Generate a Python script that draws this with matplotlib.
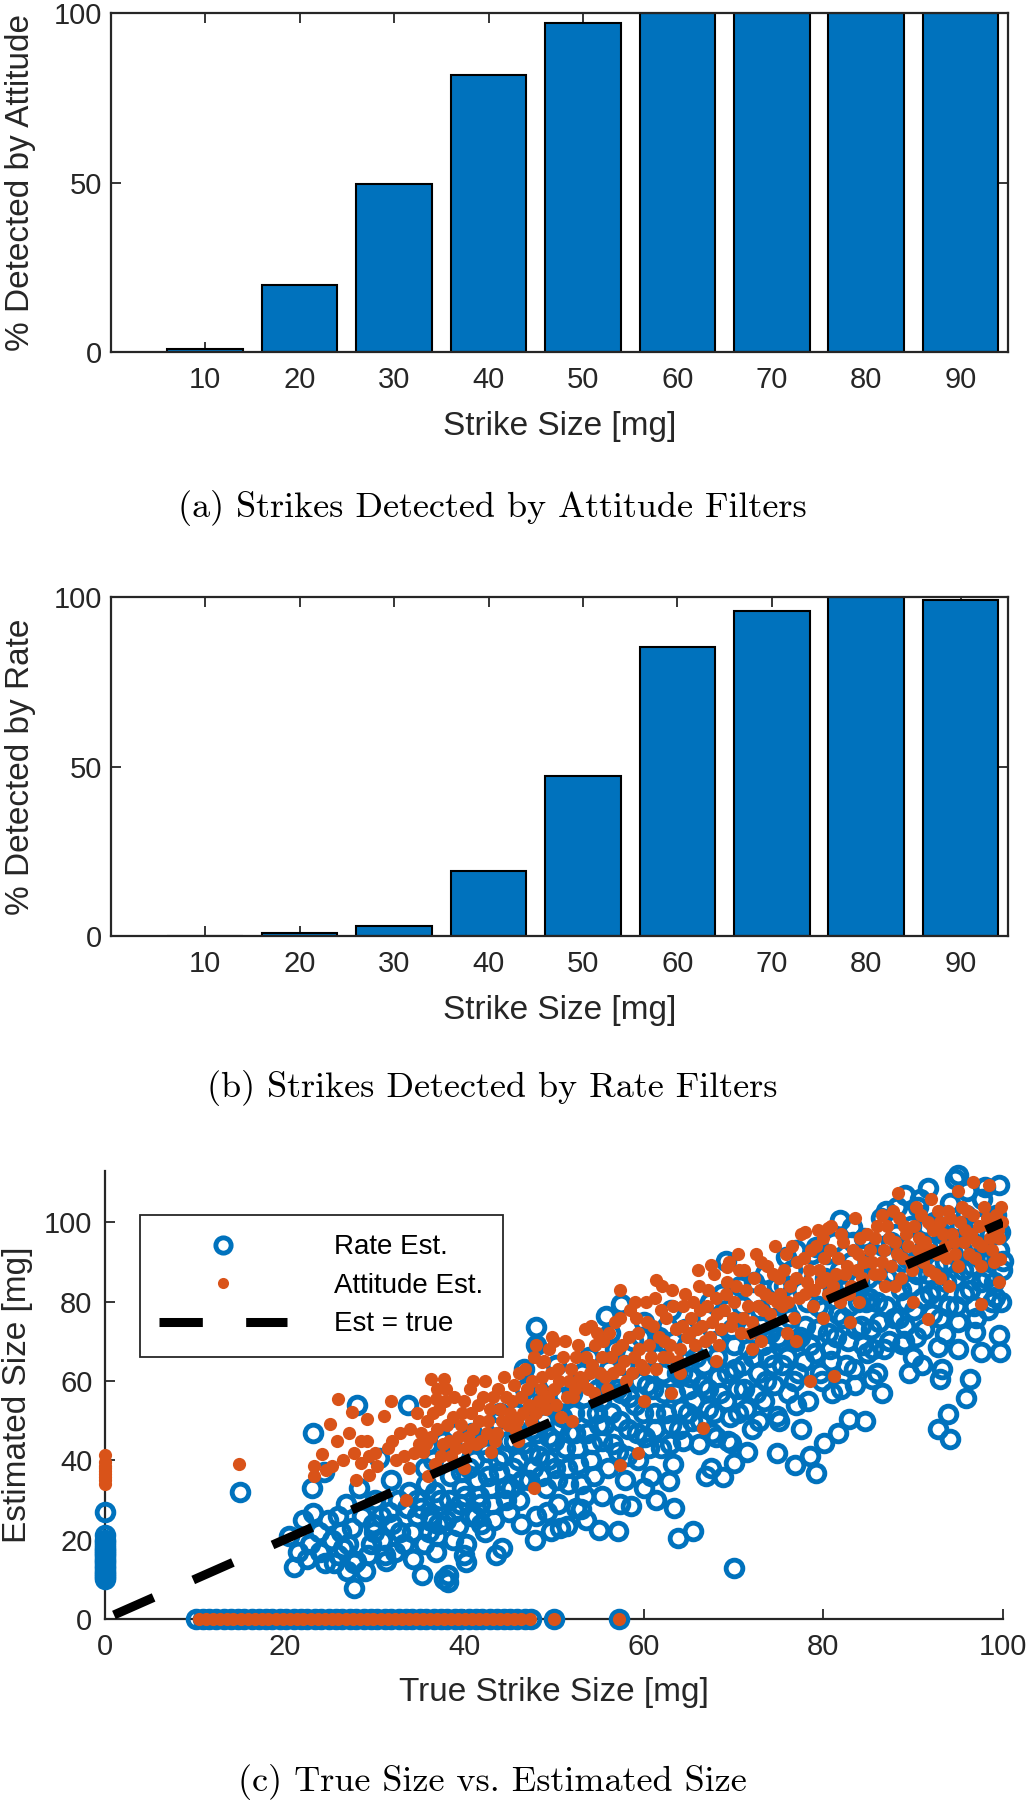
import matplotlib
matplotlib.use("Agg")
import matplotlib.pyplot as plt

# -------------------------------
# DATA
# -------------------------------
strike_sizes = [10, 20, 30, 40, 50, 60, 70, 80, 90]
pct_attitude = [1.0, 19.7, 49.7, 81.8, 97.2, 100, 100, 100, 100]
pct_rate = [0.0, 0.8, 3.0, 19.2, 47.2, 85.4, 95.8, 100, 99.1]

# rate estimates: undetected strikes (estimate 0) and detections at true size 0
rate_zero_x = [10.1, 10.9, 11.6, 12.4, 13.3, 14.0, 14.8, 15.5, 16.4, 17.1, 17.9, 18.6,
               19.5, 20.2, 21.0, 21.8, 22.5, 23.4, 24.1, 24.9, 25.7, 26.4, 27.3, 28.0,
               28.8, 29.6, 30.3, 31.2, 31.9, 32.7, 33.5, 34.2, 35.1, 35.8, 36.6, 37.4,
               38.1, 39.0, 39.7, 40.5, 41.3, 42.0, 42.9, 43.6, 44.4, 45.1, 45.9, 46.8,
               47.4, 50.0, 57.2]
rate_at_zero_y = [10.0, 10.6, 11.1, 11.7, 12.2, 12.9, 13.4, 14.0, 14.5, 15.1, 15.8,
                  16.3, 16.9, 17.4, 18.0, 18.7, 19.3, 20.0, 21.1, 27.0]

# rate estimates, small strikes
rate_low_x = [15.0, 23.2, 23.2, 28.1, 33.7, 24.4, 28.3, 32.6, 26.0, 24.0, 25.3, 27.5,
              30.7, 25.5, 27.7, 29.6, 31.2, 33.3, 27.7, 24.5, 28.0, 31.3, 21.5, 22.8,
              26.5, 29.0, 30.0, 32.0, 33.8, 31.8, 34.2, 26.8, 30.5, 22.0, 20.5,
              22.5, 23.8, 24.8, 25.9, 26.3, 27.1, 28.6, 29.3, 30.1, 30.9, 31.6, 32.3,
              32.9, 33.6, 34.3, 34.7, 29.8, 26.9, 21.0, 23.0]
rate_low_y = [32.0, 47.0, 26.8, 54.0, 54.0, 37.0, 33.0, 30.0, 26.0, 16.8, 20.0, 23.0,
              26.0, 14.0, 14.0, 19.0, 16.0, 19.0, 7.8, 14.0, 14.5, 14.5, 17.0, 19.0,
              18.0, 12.0, 22.0, 24.0, 32.0, 35.0, 22.0, 29.0, 40.5, 25.0, 21.0,
              15.0, 22.0, 25.0, 16.0, 22.0, 19.0, 26.0, 16.0, 30.0, 20.0, 27.0, 17.0,
              22.0, 28.0, 15.0, 30.0, 24.0, 12.0, 13.0, 33.0]

# rate estimates, 35-65 mg
rate_mid_x = [35.2, 35.8, 36.1, 36.5, 36.9, 37.3, 37.6, 38.0, 38.4, 38.7, 39.1, 39.5,
              39.8, 40.2, 40.5, 40.9, 41.2, 41.6, 42.0, 42.3, 42.7, 43.1, 43.4, 43.8,
              44.2, 44.5, 44.9, 45.0, 35.3, 37.7, 38.2, 38.2, 40.0, 43.5, 40.2, 36.3,
              35.5, 34.8, 37.0, 39.3, 41.9,
              45.4, 45.8, 46.1, 46.5, 46.8, 47.2, 47.6, 48.0, 48.3, 48.7, 49.1, 49.4,
              49.8, 50.1, 50.5, 50.9, 51.2, 51.6, 52.0, 52.3, 52.7, 53.1, 53.4, 53.8,
              54.2, 54.5, 54.9, 55.0, 46.3, 47.9, 49.2, 50.7, 52.5, 53.6, 48.0, 48.0,
              55.3, 55.7, 56.0, 56.4, 56.8, 57.1, 57.5, 57.9, 58.2, 58.6, 59.0, 59.3,
              59.7, 60.1, 60.4, 60.8, 61.2, 61.5, 61.9, 62.3, 62.6, 63.0, 63.3, 63.7,
              64.1, 64.4, 64.8, 65.0, 55.8, 57.5, 49.7, 51.5, 55.0, 57.1, 58.6, 53.0,
              55.3, 57.3, 63.8, 65.5, 63.4, 62.8, 61.4, 60.0]
rate_mid_y = [28, 34, 22, 40, 17, 30, 45, 25, 36, 20, 42, 29,
              33, 19, 38, 47, 26, 31, 44, 22, 36, 29, 50, 40,
              18, 33, 45, 27, 11, 10, 9.4, 11, 16, 16, 14.4, 24.6,
              19, 26, 21, 23.5, 24,
              38, 52, 30, 44, 58, 35, 48, 26, 41, 55, 33, 46,
              60, 38, 29, 51, 43, 34, 57, 47, 39, 62, 31, 52,
              44, 36, 58, 49, 24, 20, 27, 23, 28, 25, 73.6, 69,
              45, 60, 38, 52, 68, 42, 57, 35, 48, 63, 54, 40,
              71, 46, 59, 36, 52, 66, 43, 57, 74, 49, 39, 62,
              53, 45, 69, 58, 76.5, 79.5, 22.1, 23.4, 22.5, 22.1, 28.4, 27.6,
              31, 28.9, 20.4, 22.1, 28, 34.8, 30, 33]

# rate estimates, 65-100 mg
rate_high_x = [65.4, 65.8, 66.1, 66.5, 66.9, 67.2, 67.6, 68.0, 68.3, 68.7, 69.1, 69.4,
               69.8, 70.2, 70.5, 70.9, 71.2, 71.6, 72.0, 72.3, 72.7, 73.1, 73.4, 73.8,
               74.2, 74.5, 74.9, 75.0, 70.1, 66.9, 68.8, 70.1, 69.7, 69.2, 67.5, 71.5,
               75.4, 75.8, 76.1, 76.5, 76.9, 77.2, 77.6, 78.0, 78.3, 78.7, 79.1, 79.4,
               79.8, 80.2, 80.5, 80.9, 81.2, 81.6, 82.0, 82.3, 82.7, 83.1, 83.4, 83.8,
               84.2, 84.5, 84.9, 85.0, 74.8, 74.8, 76.8, 78.5, 79.2, 80.1, 81.6, 82.8,
               84.6, 86.5, 85.4, 81.9, 83.2, 75.8, 79.2, 77.5,
               85.3, 85.7, 86.0, 86.4, 86.8, 87.1, 87.5, 87.9, 88.2, 88.6, 89.0, 89.3,
               89.7, 90.1, 90.4, 90.8, 91.2, 91.5, 91.9, 92.3, 92.6, 93.0, 93.3, 93.7,
               94.1, 94.4, 94.8, 95.2, 95.5, 95.9, 96.3, 96.6, 97.0, 97.4, 97.7, 98.1,
               98.5, 98.8, 99.2, 99.6, 99.9, 95.0, 96.0,
               92.8, 94.1, 93.9, 93.0, 93.2, 95.9, 96.3, 96.9, 97.6, 99.5, 99.7, 99.1,
               100.0, 99.7, 99.5, 91.7, 94.6, 89.1, 93.5, 92.8, 89.1, 88.7, 91.0, 89.5]
rate_high_y = [50, 66, 44, 59, 76, 53, 47, 70, 61, 82, 55, 45,
               73, 63, 52, 79, 58, 68, 48, 85, 62, 74, 55, 66,
               80, 59, 71, 50, 12.8, 36, 35.7, 39.3, 44.4, 90.4, 38, 42,
               64, 78, 57, 88, 70, 62, 83, 74, 55, 92, 67, 79,
               60, 86, 72, 65, 95, 77, 58, 83, 70, 90, 63, 80,
               74, 96, 67, 86, 51.1, 41.8, 38.9, 41, 36.8, 44.4, 47, 50.4,
               49.9, 57, 60.5, 100.6, 98.9, 91.3, 93.8, 48,
               73, 92, 80, 101, 68, 86, 95, 76, 104, 83, 70, 91,
               99, 78, 87, 106, 73, 94, 82, 100, 89, 76, 97, 85,
               105, 92, 79, 99, 88, 102, 83, 95, 76, 91, 106, 86,
               97, 80, 102, 93, 88, 112, 108,
               47.8, 45.3, 51.6, 60.5, 63, 55.8, 60.5, 72.3, 67.3, 71.5, 67.3, 81.1,
               90.4, 97.6, 109.4, 108.6, 111, 106.9, 71.9, 68.5, 73.9, 69.3, 64, 62]

# rate estimates, dense core (second pass read of the cloud)
rate_core_x = [35.6, 36.2, 36.7, 37.1, 37.9, 38.3, 38.9, 39.6, 40.1, 40.7, 41.1, 41.4,
               41.8, 42.5, 42.9, 43.3, 43.9, 44.3, 44.7, 36.0, 39.0, 42.1, 44.0,
               45.2, 45.6, 46.0, 46.4, 46.9, 47.3, 47.7, 48.1, 48.5, 48.9, 49.3, 49.6,
               50.0, 50.3, 50.7, 51.0, 51.4, 51.8, 52.2, 52.6, 53.0, 53.3, 53.7, 54.1,
               54.4, 54.8, 46.7, 50.2, 53.9,
               55.2, 55.6, 56.1, 56.6, 57.0, 57.4, 57.8, 58.1, 58.4, 58.8, 59.2, 59.5,
               59.9, 60.3, 60.6, 61.0, 61.3, 61.7, 62.1, 62.5, 62.9, 63.2, 63.5, 63.9,
               64.3, 64.6, 64.9, 56.2, 60.0, 63.0,
               65.2, 65.6, 66.0, 66.3, 66.7, 67.1, 67.4, 67.8, 68.2, 68.5, 68.9, 69.3,
               69.6, 70.0, 70.4, 70.7, 71.1, 71.4, 71.8, 72.2, 72.5, 72.9, 73.3, 73.6,
               74.0, 74.4, 74.8, 68.0, 72.8, 73.5,
               75.2, 75.6, 76.0, 76.3, 76.7, 77.0, 77.4, 77.8, 78.2, 78.5, 78.9, 79.3,
               79.6, 80.0, 80.4, 80.7, 81.1, 81.4, 81.8, 82.2, 82.5, 82.9, 83.3, 83.6,
               84.0, 84.4, 84.7, 77.0, 81.0, 83.5,
               85.1, 85.5, 85.9, 86.2, 86.6, 87.0, 87.3, 87.7, 88.1, 88.4, 88.8, 89.2,
               89.5, 89.9, 90.3, 90.6, 91.0, 91.4, 91.7, 92.1, 92.5, 92.8, 93.2, 93.5,
               93.9, 94.3, 94.6, 95.0, 95.4, 95.7, 96.1, 96.5, 96.8, 97.2, 97.6, 97.9,
               98.3, 98.7, 99.0, 99.4, 99.8, 87.0, 90.5, 98.0, 86.0, 90.0, 95.0]
rate_core_y = [38, 26, 32, 24, 40, 30, 27, 37, 31, 26, 40, 35,
               29, 42, 33, 25, 37, 41, 30, 44, 47, 48, 52,
               33, 45, 40, 35, 50, 42, 38, 47, 36, 50, 40, 54,
               45, 35, 49, 56, 38, 47, 52, 43, 34, 56, 47, 40,
               60, 52, 63, 64, 66,
               55, 49, 63, 44, 58, 50, 64, 41, 56, 70, 47, 60,
               52, 66, 43, 58, 48, 71, 62, 52, 44, 67, 57, 48,
               62, 73, 52, 72, 75, 78,
               61, 55, 71, 50, 64, 58, 80, 52, 66, 57, 75, 62,
               51, 69, 58, 84, 64, 53, 73, 66, 57, 78, 69, 60,
               72, 64, 84, 46, 50, 87,
               70, 84, 66, 76, 60, 93, 71, 65, 80, 69, 86, 73,
               62, 78, 92, 68, 83, 71, 88, 76, 64, 79, 95, 73,
               85, 69, 80, 54, 57, 59,
               81, 68, 88, 75, 94, 79, 70, 87, 97, 76, 90, 80,
               95, 84, 71, 92, 81, 99, 87, 77, 94, 83, 102, 90,
               79, 96, 86, 75, 93, 82, 99, 89, 79, 100, 85, 94,
               78, 91, 85, 97, 80, 103, 104, 109, 62, 66, 68]

# attitude estimates
att_zero_x = [10.5, 11.2, 12.0, 12.8, 13.6, 14.3, 15.1, 15.9, 16.7, 17.5, 18.2, 19.0,
              19.8, 20.6, 21.4, 22.1, 22.9, 23.7, 24.5, 25.3, 26.0, 26.8, 27.6, 28.4,
              29.2, 29.9, 30.7, 31.5, 32.3, 33.1, 33.8, 34.6, 35.4, 36.2, 37.0, 37.8,
              38.5, 39.3, 40.1, 40.9, 41.7, 42.4, 43.2, 44.0, 44.8, 45.6, 46.3, 47.3,
              50.0, 57.2]
att_at_zero_y = [34.0, 35.0, 35.8, 36.5, 37.3, 38.0, 38.6, 39.5, 41.3]

att_low_x = [14.9, 26.0, 27.5, 25.1, 29.2, 31.1, 23.3, 24.2, 24.6, 25.3, 23.3, 27.7,
             28.5, 28.5, 29.2, 29.4, 30.3, 29.4, 30.1, 28.0, 33.3, 32.4, 34.4, 33.5,
             36.3, 37.8, 35.6, 36.9, 32.0, 34.0, 35.0,
             25.8, 26.5, 27.2, 31.5, 32.8, 33.9, 34.8, 31.9]
att_low_y = [39.1, 55.5, 52.1, 49.2, 50.4, 51.3, 38.5, 41.5, 37.6, 38.5, 36.0, 41.8,
             39.3, 44.8, 44.8, 41.0, 38.5, 36.4, 41.8, 35.1, 41.0, 40.1, 41.8, 30.0,
             60.5, 60.5, 55.0, 55.4, 45.0, 48.0, 44.0,
             45.0, 40.0, 47.0, 43.0, 47.0, 38.0, 52.0, 55.0]

att_mid_x = [35.4, 35.9, 36.3, 36.8, 37.2, 37.6, 38.1, 38.5, 38.9, 39.3, 39.8, 40.2,
             40.6, 41.0, 41.5, 41.9, 42.3, 42.7, 43.2, 43.6, 44.0, 44.4, 44.9, 36.0,
             40.0, 43.0, 38.0,
             45.3, 45.7, 46.1, 46.6, 47.0, 47.4, 47.8, 48.3, 48.7, 49.1, 49.5, 50.0,
             50.4, 50.8, 51.2, 51.7, 52.1, 52.5, 52.9, 53.4, 53.8, 54.2, 54.6, 47.8,
             48.7, 49.8, 54.1, 46.0, 52.0,
             55.1, 55.5, 55.9, 56.3, 56.8, 57.2, 57.6, 58.0, 58.5, 58.9, 59.3, 59.7,
             60.2, 60.6, 61.0, 61.4, 61.9, 62.3, 62.7, 63.1, 63.6, 64.0, 64.4, 64.8,
             57.3, 61.4, 57.3, 59.3, 60.0, 63.0]
att_mid_y = [42, 50, 46, 39, 53, 44, 49, 41, 56, 46, 52, 43,
             58, 48, 54, 45, 60, 50, 56, 47, 53, 61, 49, 36,
             38, 42, 58,
             55, 48, 62, 52, 58, 50, 66, 55, 61, 53, 68, 58,
             63, 51, 70, 60, 56, 66, 61, 73, 58, 64, 69, 33.1,
             64.7, 71, 74, 45, 50,
             62, 70, 58, 66, 75, 63, 69, 60, 78, 66, 72, 64,
             80, 69, 74, 63, 78, 70, 66, 83, 73, 68, 79, 71,
             82.9, 85.4, 38.9, 41.8, 55, 57]

att_high_x = [65.3, 65.7, 66.1, 66.5, 67.0, 67.4, 67.8, 68.2, 68.6, 69.1, 69.5, 69.9,
              70.3, 70.8, 71.2, 71.6, 72.0, 72.5, 72.9, 73.3, 73.7, 74.2, 74.6, 67.5,
              69.3, 66.6, 68.0, 72.0,
              75.0, 75.4, 75.8, 76.3, 76.7, 77.1, 77.5, 78.0, 78.4, 78.8, 79.2, 79.7,
              80.1, 80.5, 80.9, 81.4, 81.8, 82.2, 82.6, 83.1, 83.5, 83.9, 84.3, 84.8,
              78.0, 79.4, 80.5, 81.2, 78.5, 77.0, 83.0,
              85.2, 85.6, 86.0, 86.5, 86.9, 87.3, 87.7, 88.2, 88.6, 89.0, 89.4, 89.9,
              90.3, 90.7, 91.1, 91.6, 92.0, 92.4, 92.8, 93.3, 93.7, 94.1, 94.5, 95.0,
              95.4, 95.8, 96.2, 96.7, 97.1, 97.5, 97.9, 98.4, 98.8, 99.2, 99.6, 99.9,
              86.5, 88.3, 96.7, 98.4, 99.7, 99.5, 91.7, 97.6, 90.0, 94.0]
att_high_y = [76, 69, 84, 74, 79, 71, 87, 77, 73, 82, 90, 76,
              84, 72, 88, 79, 75, 92, 83, 78, 89, 81, 94, 89.2,
              88.7, 48.2, 65, 68,
              86, 79, 92, 84, 76, 90, 97, 82, 88, 79, 94, 85,
              91, 82, 99, 87, 80, 95, 89, 84, 101, 92, 86, 97,
              97.6, 98, 98.5, 61.3, 60, 70, 75,
              93, 87, 99, 90, 84, 96, 103, 92, 86, 99, 94, 88,
              104, 96, 90, 100, 93, 87, 103, 97, 91, 101, 95, 89,
              104, 98, 92, 102, 95, 89, 104, 99, 93, 102, 96, 100,
              101.8, 107.3, 110.2, 109.4, 90.8, 84.9, 75.7, 79.5, 80, 84]

# attitude estimates, dense band (second pass read)
att_core_x = [35.2, 35.7, 36.5, 37.0, 37.4, 37.9, 38.3, 38.7, 39.1, 39.6, 40.0, 40.4,
              40.8, 41.3, 41.7, 42.1, 42.5, 42.9, 43.4, 43.8, 44.2, 44.7, 37.0, 41.0,
              45.1, 45.5, 45.9, 46.3, 46.8, 47.2, 47.6, 48.0, 48.5, 48.9, 49.3, 49.7,
              50.2, 50.6, 51.0, 51.4, 51.9, 52.3, 52.7, 53.1, 53.6, 54.0, 54.4, 54.8,
              50.0, 48.0,
              55.3, 55.7, 56.1, 56.6, 57.0, 57.4, 57.8, 58.3, 58.7, 59.1, 59.5, 60.0,
              60.4, 60.8, 61.2, 61.7, 62.1, 62.5, 62.9, 63.3, 63.8, 64.2, 64.6, 59.0,
              62.0, 64.0,
              65.1, 65.5, 65.9, 66.3, 66.8, 67.2, 67.6, 68.0, 68.4, 68.9, 69.3, 69.7,
              70.1, 70.6, 71.0, 71.4, 71.8, 72.3, 72.7, 73.1, 73.5, 74.0, 74.4, 74.8,
              70.5, 66.0, 73.0,
              75.2, 75.6, 76.1, 76.5, 76.9, 77.3, 77.8, 78.2, 78.6, 79.0, 79.5, 79.9,
              80.3, 80.7, 81.1, 81.6, 82.0, 82.4, 82.8, 83.3, 83.7, 84.1, 84.5, 76.0,
              80.0, 84.0,
              85.4, 85.8, 86.3, 86.7, 87.1, 87.5, 88.0, 88.4, 88.8, 89.2, 89.7, 90.1,
              90.5, 90.9, 91.3, 91.8, 92.2, 92.6, 93.0, 93.5, 93.9, 94.3, 94.7, 95.2,
              95.6, 96.0, 96.4, 96.9, 97.3, 97.7, 98.2, 98.6, 99.0, 99.4, 99.8, 92.0,
              95.0, 88.0, 93.0]
att_core_y = [47, 44, 52, 48, 41, 55, 45, 51, 43, 49, 55, 46,
              52, 44, 50, 56, 47, 53, 45, 58, 50, 56, 58, 60,
              52, 59, 50, 56, 63, 54, 60, 52, 58, 65, 56, 62,
              54, 60, 66, 56, 63, 58, 69, 60, 66, 62, 57, 72,
              70, 69,
              66, 61, 72, 62, 68, 76, 65, 71, 62, 76, 68, 63,
              75, 66, 81, 71, 66, 76, 69, 79, 65, 74, 82, 80,
              84, 62,
              72, 80, 73, 78, 70, 83, 75, 81, 69, 78, 85, 74,
              80, 88, 76, 83, 72, 86, 79, 90, 82, 77, 87, 80,
              92, 88, 70,
              82, 88, 80, 94, 86, 81, 91, 85, 93, 83, 88, 96,
              86, 93, 84, 91, 97, 87, 82, 93, 88, 96, 90, 72,
              76, 80,
              90, 96, 87, 93, 99, 89, 95, 101, 91, 97, 90, 99,
              93, 102, 95, 88, 98, 92, 100, 94, 103, 97, 92, 100,
              95, 103, 97, 91, 99, 94, 101, 96, 90, 98, 104, 106,
              108, 84, 86]

est_line = [1, 100]

# -------------------------------
# STYLE
# -------------------------------
BLUE = "#0072BD"
ORANGE = "#D95319"
AXC = "#262626"
plt.rcParams["font.family"] = ["Liberation Sans", "DejaVu Sans"]

fig = plt.figure(figsize=(10.26, 18), dpi=100)


def style_axes(ax, box):
    for side, sp in ax.spines.items():
        sp.set_color(AXC)
        sp.set_linewidth(1.6)
        if not box and side in ("top", "right"):
            sp.set_visible(False)
    ax.tick_params(direction="in", length=7, width=1.3, color=AXC,
                   labelcolor=AXC, labelsize=21, top=box, right=box)
    ax.tick_params(axis="x", pad=10)
    ax.tick_params(axis="y", pad=6)


# -------------------------------
# BAR PANELS
# -------------------------------
def bar_panel(rect, vals, ylabel, caption, cap_y):
    ax = fig.add_axes(rect)
    ax.bar(strike_sizes, vals, width=8, color=BLUE, edgecolor="black",
           linewidth=1.5, zorder=2)
    ax.set_xlim(0, 95)
    ax.set_ylim(0, 100)
    ax.set_xticks(strike_sizes)
    ax.set_yticks([0, 50, 100])
    style_axes(ax, True)
    ax.set_xlabel("Strike Size [mg]", fontsize=24, color=AXC, va="center")
    ax.xaxis.set_label_coords(0.5, -0.221)
    ax.set_ylabel(ylabel, fontsize=24, color=AXC, va="center")
    ax.yaxis.set_label_coords(-0.101, 0.5)
    fig.text(0.48, cap_y, caption, family="cmr10", fontsize=26,
             ha="center", va="center")
    return ax


bar_panel([0.108, 0.8044, 0.8743, 0.1883], pct_attitude,
          "% Detected by Attitude", "(a) Strikes Detected by Attitude Filters", 0.7178)
bar_panel([0.108, 0.48, 0.8743, 0.1883], pct_rate,
          "% Detected by Rate", "(b) Strikes Detected by Rate Filters", 0.3956)

# -------------------------------
# SCATTER PANEL
# -------------------------------
ax = fig.add_axes([0.1023, 0.1006, 0.8753, 0.2489])

rate_x = (rate_zero_x + [0] * len(rate_at_zero_y) + rate_low_x + rate_mid_x
          + rate_high_x + rate_core_x)
rate_y = ([0] * len(rate_zero_x) + rate_at_zero_y + rate_low_y + rate_mid_y
          + rate_high_y + rate_core_y)
att_x = att_zero_x + [0] * len(att_at_zero_y) + att_low_x + att_mid_x + att_high_x + att_core_x
att_y = [0] * len(att_zero_x) + att_at_zero_y + att_low_y + att_mid_y + att_high_y + att_core_y

ax.plot(rate_x, rate_y, "o", mfc="none", mec=BLUE, ms=12, mew=3.5,
        clip_on=False, label="Rate Est.", zorder=3)
ax.plot(att_x, att_y, "o", color=ORANGE, ms=9.5, mew=0,
        clip_on=False, label="Attitude Est.", zorder=4)
ax.plot(est_line, est_line, color="black", lw=6.5, dashes=(4.8, 4.8),
        dash_capstyle="butt", label="Est = true", zorder=5)

ax.set_xlim(0, 100)
ax.set_ylim(0, 113)
ax.set_xticks([0, 20, 40, 60, 80, 100])
ax.set_yticks([0, 20, 40, 60, 80, 100])
style_axes(ax, False)
ax.tick_params(axis="y", pad=9)
ax.set_xlabel("True Strike Size [mg]", fontsize=24, color=AXC, va="center")
ax.xaxis.set_label_coords(0.5, -0.165)
ax.set_ylabel("Estimated Size [mg]", fontsize=24, color=AXC, va="center")
ax.yaxis.set_label_coords(-0.097, 0.5)

leg = ax.legend(loc="upper left", bbox_to_anchor=(0.1365, 0.325),
                bbox_transform=fig.transFigure, borderaxespad=0,
                fontsize=20, handlelength=4.6, handletextpad=1.7,
                labelspacing=0.45, borderpad=0.7, numpoints=1,
                fancybox=False, framealpha=1, edgecolor=AXC)
leg.get_frame().set_linewidth(1.3)
leg.legend_handles[0].set_markersize(11)
leg.legend_handles[1].set_markersize(8)

fig.text(0.48, 0.01, "(c) True Size vs. Estimated Size", family="cmr10",
         fontsize=26, ha="center", va="center")

fig.savefig("out.png", dpi=100)
